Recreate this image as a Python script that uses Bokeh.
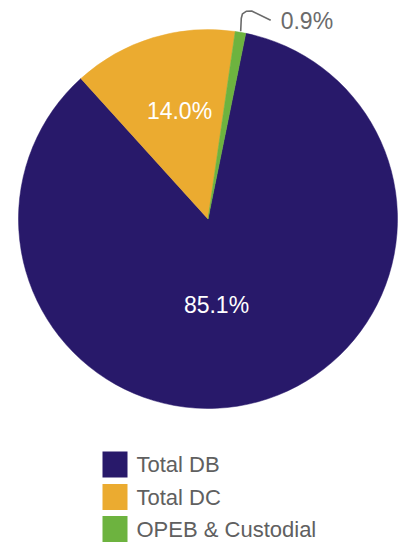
import math
from bokeh.plotting import figure
from bokeh.models import Range1d, ColumnDataSource
from bokeh.core.properties import value
from bokeh.embed import file_html
from bokeh.resources import INLINE

# ---- data ----
categories = ["Total DB", "Total DC", "OPEB & Custodial"]
shares = [85.1, 14.0, 0.9]
labels = ["85.1%", "14.0%", "0.9%"]
colors = ["#28196a", "#ebab30", "#6db33f"]

# ---- layout helpers (page px -> figure data units, 1 unit = 1 px) ----
W, H = 400, 542


def fx(px):
    return px


def fy(py):
    return H - py


p = figure(width=W, height=H, x_range=Range1d(0, W), y_range=Range1d(0, H),
           output_backend="svg", toolbar_location=None, min_border=0)
p.axis.visible = False
p.grid.visible = False
p.outline_line_color = None
p.background_fill_color = "white"
p.border_fill_color = "white"

cx, cy, r = fx(207.5), fy(218.5), 189.5
start0 = math.radians(90 - 11.5)
total = sum(shares)
starts, ends = [], []
a = start0
for s in shares:
    starts.append(a)
    a -= 2 * math.pi * s / total
    ends.append(a)

src = ColumnDataSource(dict(start=starts, end=ends, color=colors, cat=categories))
p.wedge(x=cx, y=cy, radius=r, radius_units="screen",
        start_angle="start", end_angle="end", direction="clock",
        fill_color="color", line_color="color", line_width=0.5, source=src)

# inside labels
label_px = [(216, 304), (179, 110)]
p.text(x=[fx(q[0]) for q in label_px], y=[fy(q[1]) for q in label_px],
       text=labels[:2], text_color="white", text_font=value("Liberation Sans"),
       text_font_size="23px", text_align="center", text_baseline="middle")

# leader line for the small slice
mid = (starts[2] + ends[2]) / 2
ax = cx + (r + 1) * math.cos(mid)
ay = cy + (r + 1) * math.sin(mid)
offs = [(0, 0), (0.6, 13), (1.8, 17.5), (5.5, 20), (11, 20.3), (30, 11)]
lx = [ax + o[0] for o in offs]
ly = [ay + o[1] for o in offs]
p.line(lx, ly, line_color="#6b6b6b", line_width=1.6)
p.text(x=[lx[-1] + 10], y=[ly[-1] - 1], text=[labels[2]], text_color="#6b6b6b",
       text_font=value("Liberation Sans"), text_font_size="23px",
       text_align="left", text_baseline="middle")

# legend
leg_y = [464, 496.5, 528.5]
p.rect(x=[fx(114.5)] * 3, y=[fy(v) for v in leg_y], width=25, height=26,
       fill_color=colors, line_color=None)
p.text(x=[fx(136)] * 3, y=[fy(v) for v in leg_y], text=categories,
       text_color="#606060", text_font=value("Liberation Sans"),
       text_font_size="22px", text_align="left", text_baseline="middle")

open("out.html", "w").write(file_html(p, INLINE))
